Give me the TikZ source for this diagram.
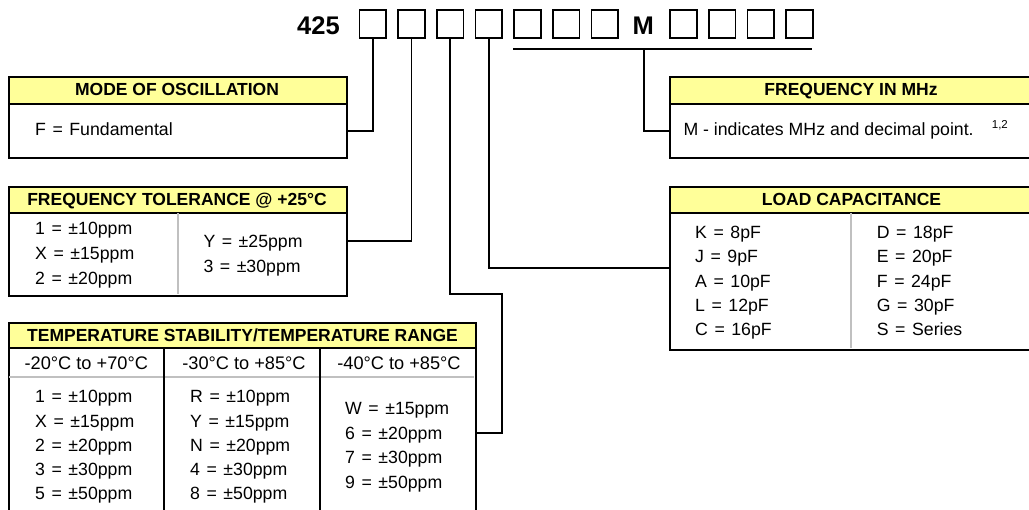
\documentclass[tikz,border=0pt]{standalone}
\usepackage{fontspec}
\setmainfont{Liberation Sans}
\definecolor{hdryellow}{HTML}{FFFF99}
\definecolor{sepgray}{HTML}{C0C0C0}
\newcommand{\mywidesp}{\spaceskip=0.37em\relax}
\begin{document}
\begin{tikzpicture}[x=1pt,y=-1pt,
  codebox/.style={draw, line width=1.7pt, minimum width=26.6pt, minimum height=28.5pt, inner sep=0pt, anchor=north west},
  hdrbox/.style={draw, line width=2.1pt, fill=hdryellow, inner sep=0pt, anchor=north west},
  bodybox/.style={draw, line width=2pt, inner sep=0pt, anchor=north west},
  txt/.style={font=\fontsize{17.7}{21}\selectfont, inner sep=0pt, anchor=base west},
  eqtxt/.style={font=\fontsize{17.7}{21}\selectfont, execute at begin node=\mywidesp, inner sep=0pt, anchor=base west},
  ctxt/.style={font=\fontsize{18.2}{21}\selectfont, inner sep=0pt, anchor=base},
  hdrtxt/.style={font=\fontsize{17.5}{21}\selectfont\bfseries, inner sep=0pt, anchor=base},
  codetxt/.style={font=\fontsize{25.5}{30}\selectfont\bfseries, inner sep=0pt},
  wire/.style={line width=1.9pt},
  sepline/.style={draw=sepgray, line width=1.8pt},
  colline/.style={line width=2pt}]
\useasboundingbox (0,0) rectangle (1029,510);
\clip (0,0) rectangle (1029,510);

% ---- part number line ----
\node[codetxt, anchor=base west] (p425) at (297,35) {425};
\foreach \x [count=\i] in {358.7,397.3,436,474.7,513.3,552,590.7,669.3,708,746.7,785.4}
  \node[codebox] (b\i) at (\x,9) {};
\node[codetxt, anchor=base] (mm) at (643.3,34.3) {M};
\coordinate (brL) at (513.3,49.3);
\coordinate (brR) at (812.3,49.3);
\coordinate (brM) at (644,49.3);
\draw[wire] (brL) -- (brR);

% ---- MODE OF OSCILLATION ----
\node[bodybox, minimum width=337.4pt, minimum height=54pt] (modeb) at (8.3,103.3) {};
\node[hdrbox, minimum width=337.4pt, minimum height=27.3pt] (modeh) at (8.3,76) {};
\node[hdrtxt] (modeht) at (177,96) {MODE OF OSCILLATION};
\node[eqtxt] (modebt) at (35,136) {F = Fundamental};

% ---- FREQUENCY TOLERANCE ----
\node[bodybox, minimum width=337.4pt, minimum height=82.7pt] (ftb) at (8.3,212.3) {};
\node[hdrbox, minimum width=337.4pt, minimum height=26.3pt] (fth) at (8.3,186) {};
\draw[sepline] (177.7,213.5) -- (177.7,294);
\node[hdrtxt] (ftht) at (177,206) {FREQUENCY TOLERANCE @ +25°C};
\foreach \t/\y [count=\i] in {1 = ±10ppm/235, X = ±15ppm/260, 2 = ±20ppm/284.3}
  \node[eqtxt] (ftl\i) at (35,\y) {\t};
\foreach \t/\y [count=\i] in {Y = ±25ppm/247.7, 3 = ±30ppm/272.7}
  \node[eqtxt] (ftr\i) at (203.3,\y) {\t};

% ---- TEMPERATURE STABILITY ----
\node[bodybox, minimum width=466.7pt, minimum height=169.4pt] (tsb) at (8.3,347.3) {};
\node[hdrbox, minimum width=466.7pt, minimum height=25.6pt] (tsh) at (8.3,321.7) {};
\draw[sepline] (9.3,376.7) -- (474,376.7);
\draw[colline] (164.3,347.3) -- (164.3,517);
\draw[colline] (320,347.3) -- (320,517);
\node[hdrtxt] (tsht) at (242.5,341.7) {TEMPERATURE STABILITY/TEMPERATURE RANGE};
\node[ctxt] (tss1) at (86.3,370) {-20°C to +70°C};
\node[ctxt] (tss2) at (244,370) {-30°C to +85°C};
\node[ctxt] (tss3) at (399,370) {-40°C to +85°C};
\foreach \t/\y [count=\i] in {1 = ±10ppm/402.7, X = ±15ppm/427.3, 2 = ±20ppm/451.7, 3 = ±30ppm/476, 5 = ±50ppm/500}
  \node[eqtxt] (tsa\i) at (35,\y) {\t};
\foreach \t/\y [count=\i] in {R = ±10ppm/402.7, Y = ±15ppm/427.3, N = ±20ppm/451.7, 4 = ±30ppm/476, 8 = ±50ppm/500}
  \node[eqtxt] (tsb\i) at (190,\y) {\t};
\foreach \t/\y [count=\i] in {W = ±15ppm/415, 6 = ±20ppm/440, 7 = ±30ppm/464, 9 = ±50ppm/488.3}
  \node[eqtxt] (tsc\i) at (345,\y) {\t};

% ---- FREQUENCY IN MHz ----
\node[bodybox, minimum width=364pt, minimum height=54.6pt] (mzb) at (669.3,102.7) {};
\node[hdrbox, minimum width=364pt, minimum height=26.7pt] (mzh) at (669.3,76) {};
\node[hdrtxt] (mzht) at (851,96) {FREQUENCY IN MHz};
\node[txt] (mzbt) at (683.3,136) {M - indicates MHz and decimal point.};
\node[font=\fontsize{11.5}{13}\selectfont, inner sep=0pt, anchor=base west] (mzsup) at (991.7,129) {1,2};

% ---- LOAD CAPACITANCE ----
\node[bodybox, minimum width=364pt, minimum height=137pt] (lcb) at (669.3,212.3) {};
\node[hdrbox, minimum width=364pt, minimum height=26.3pt] (lch) at (669.3,186) {};
\draw[sepline] (851,213.5) -- (851,348.3);
\node[hdrtxt] (lcht) at (851.5,206) {LOAD CAPACITANCE};
\foreach \t/\y [count=\i] in {K = 8pF/238.3, J = 9pF/262.7, A = 10pF/287.3, L = 12pF/311.7, C = 16pF/336}
  \node[eqtxt] (lca\i) at (695,\y) {\t};
\foreach \t/\y [count=\i] in {D = 18pF/238.3, E = 20pF/262.7, F = 24pF/287.3, G = 30pF/311.7, S = Series/336}
  \node[eqtxt] (lcc\i) at (876.7,\y) {\t};

% ---- connectors ----
\coordinate (tsA) at (501.7,294.3);
\draw[wire] (b1.south) |- (modeb.east);
\draw[wire] (b2.south) |- ([yshift=13.7pt]ftb.east);
\draw[wire] (b3.south) |- (tsA) |- (tsb.east);
\draw[wire] (b4.south) |- ([yshift=13.8pt]lcb.west);
\draw[wire] (brM) |- (mzb.west);
\end{tikzpicture}
\end{document}
